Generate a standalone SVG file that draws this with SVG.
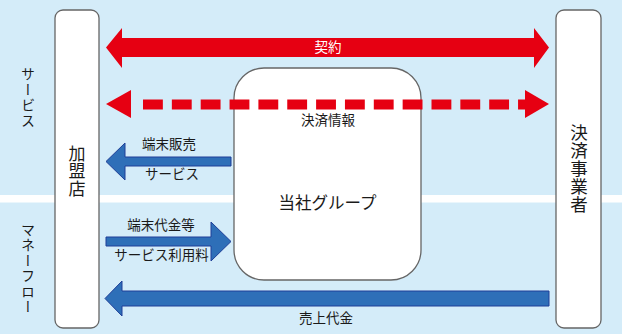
<svg xmlns="http://www.w3.org/2000/svg" width="622" height="334" viewBox="0 0 622 334">
<style>
.box{fill:#ffffff;stroke:#666666;stroke-width:1.3}
.red{fill:#e60012}
.blue{fill:#2e6fb8;stroke:#1f3f98;stroke-width:1}
.t{font-family:"Noto Sans CJK JP","Noto Sans",sans-serif;fill:#1a1a1a}
.lbl{font-size:13.5px;text-anchor:middle}
.vert{writing-mode:vertical-rl;text-anchor:middle}
</style>
<rect x="0" y="0" width="622" height="334" fill="#d4ecf9"/>
<rect x="0" y="195" width="622" height="7.5" fill="#ffffff"/>
<g id="side-labels">
<text class="t vert" x="28" y="98" font-size="14" letter-spacing="1.5">サービス</text>
<text class="t vert" x="28" y="269" font-size="14" letter-spacing="1.5">マネーフロー</text>
</g>
<g id="node-kameiten">
<rect class="box" x="55" y="10" width="44" height="318" rx="8"/>
<text class="t vert" x="77" y="171" font-size="17" letter-spacing="0.5">加盟店</text>
</g>
<g id="node-kessai">
<rect class="box" x="556" y="10" width="45" height="318" rx="8"/>
<text class="t vert" x="579" y="169" font-size="17.5" letter-spacing="0.5">決済事業者</text>
</g>
<g id="node-group">
<rect class="box" x="234" y="68" width="187" height="212" rx="30"/>
<text class="t" x="327.5" y="209" font-size="16.5" text-anchor="middle">当社グループ</text>
</g>
<g id="connectors">
<polygon class="red" points="106,47.5 122,28 122,38 534,38 534,28 549,47.5 534,68 534,57 122,57 122,68"/>
<text class="t lbl" x="328" y="52" fill="#ffffff" style="fill:#ffffff">契約</text>
<polygon class="red" points="106,104 131,90 131,118"/>
<polygon class="red" points="549,104 525,90 525,118"/>
<line x1="143" y1="104.5" x2="525" y2="104.5" stroke="#e60012" stroke-width="10" stroke-dasharray="19.85 9"/>
<text class="t lbl" x="328" y="125">決済情報</text>
<polygon class="blue" points="106,161.5 125,143 125,157 231,157 231,166 125,166 125,180"/>
<text class="t lbl" x="169" y="149">端末販売</text>
<text class="t lbl" x="172" y="179">サービス</text>
<polygon class="blue" points="106,237 211,237 211,222 231,241.5 211,261 211,246 106,246"/>
<text class="t lbl" x="161" y="230">端末代金等</text>
<text class="t lbl" x="161.5" y="260">サービス利用料</text>
<polygon class="blue" points="105,298.5 122,281 122,291 549,291 549,306 122,306 122,316"/>
<text class="t lbl" x="326" y="323">売上代金</text>
</g>
</svg>
